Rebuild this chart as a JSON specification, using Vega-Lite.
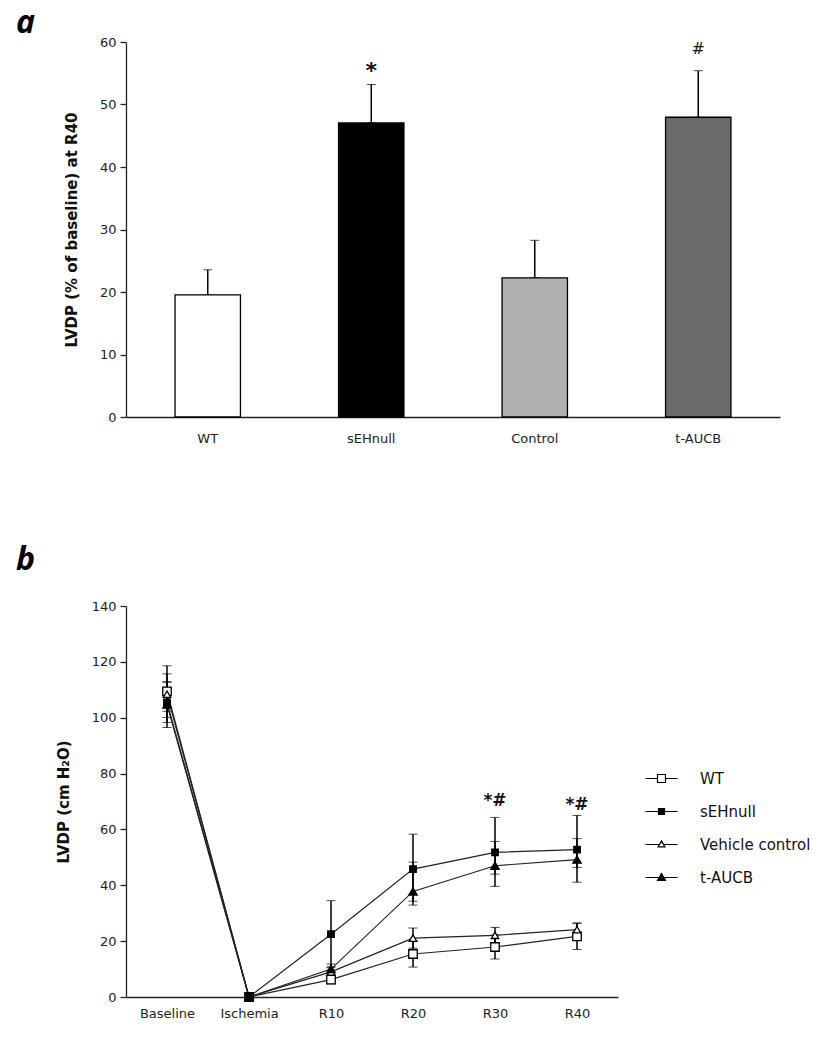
{
  "$schema": "https://vega.github.io/schema/vega-lite/v6.json",
  "background": "white",
  "padding": {"left": 16, "top": 7, "right": 5, "bottom": 5},
  "spacing": 99,
  "resolve": {
    "scale": {"fill": "independent", "shape": "independent", "size": "independent"},
    "legend": {"fill": "independent", "shape": "independent", "size": "independent"}
  },
  "config": {
    "font": "DejaVu Sans",
    "view": {"stroke": null},
    "axis": {
      "grid": false,
      "labelFont": "DejaVu Sans",
      "titleFont": "DejaVu Sans",
      "labelColor": "#222",
      "titleColor": "#111",
      "domainColor": "#222",
      "tickColor": "#222",
      "domainWidth": 1.3,
      "tickWidth": 1.3,
      "labelFontSize": 13,
      "titleFontSize": 15,
      "titleFontWeight": "bold"
    },
    "axisX": {"ticks": false, "labelAngle": 0, "labelPadding": 10},
    "axisY": {"tickSize": 6, "labelPadding": 4, "titlePadding": 20}
  },
  "vconcat": [
    {
      "width": 654,
      "height": 375,
      "title": {"text": "a", "anchor": "start", "frame": "group", "dx": -110, "offset": -4, "font": "Open Sans", "fontSize": 32, "fontStyle": "italic", "fontWeight": "bold", "color": "black"},
      "data": {"values": [
        {"group": "WT", "value": 19.55, "err_up": 4.0, "err_down": 0},
        {"group": "sEHnull", "value": 47.05, "err_up": 6.15, "err_down": 0},
        {"group": "Control", "value": 22.27, "err_up": 6.0, "err_down": 0},
        {"group": "t-AUCB", "value": 47.96, "err_up": 7.45, "err_down": 0}
      ]},
      "encoding": {
        "x": {"field": "group", "type": "nominal", "sort": ["WT", "sEHnull", "Control", "t-AUCB"], "scale": {"paddingInner": 0.6, "paddingOuter": 0.3}, "title": null, "axis": {"labelFontSize": 13, "labelPadding": 15}}
      },
      "layer": [
        {
          "mark": {"type": "errorbar", "ticks": {"size": 9, "color": "black", "strokeWidth": 1.5}, "rule": {"color": "black", "strokeWidth": 1.5}},
          "encoding": {
            "y": {"field": "value", "type": "quantitative", "scale": {"domain": [0, 60], "nice": false}, "title": "LVDP (% of baseline) at R40", "axis": {"tickCount": 6}},
            "yError": {"field": "err_up"},
            "yError2": {"field": "err_down"}
          }
        },
        {
          "mark": {"type": "bar", "stroke": "black", "strokeWidth": 1.3},
          "encoding": {
            "y": {"field": "value", "type": "quantitative", "title": "LVDP (% of baseline) at R40"},
            "fill": {"field": "group", "type": "nominal", "scale": {"domain": ["WT", "sEHnull", "Control", "t-AUCB"], "range": ["#ffffff", "#000000", "#b0b0b0", "#6a6a6a"]}, "legend": null}
          }
        },
        {
          "data": {"values": [
            {"group": "sEHnull", "sig": "*", "y": 56.2},
            {"group": "t-AUCB", "sig": "#", "y": 58.9}
          ]},
          "transform": [{"filter": "datum.sig === '*'"}],
          "mark": {"type": "text", "font": "DejaVu Sans", "fontSize": 22, "fontWeight": "bold", "baseline": "middle", "dy": 5, "color": "#111"},
          "encoding": {
            "y": {"field": "y", "type": "quantitative", "title": "LVDP (% of baseline) at R40"},
            "text": {"field": "sig"}
          }
        },
        {
          "data": {"values": [
            {"group": "sEHnull", "sig": "*", "y": 56.2},
            {"group": "t-AUCB", "sig": "#", "y": 58.9}
          ]},
          "transform": [{"filter": "datum.sig === '#'"}],
          "mark": {"type": "text", "font": "DejaVu Sans", "fontSize": 16, "baseline": "middle", "color": "#111"},
          "encoding": {
            "y": {"field": "y", "type": "quantitative", "title": "LVDP (% of baseline) at R40"},
            "text": {"field": "sig"}
          }
        }
      ]
    },
    {
      "width": 492,
      "height": 391,
      "title": {"text": "b", "anchor": "start", "frame": "group", "dx": -110, "offset": 23, "font": "Open Sans", "fontSize": 32, "fontStyle": "italic", "fontWeight": "bold", "color": "black"},
      "data": {"values": [
        {"group": "WT", "time": "Baseline", "value": 109.4, "err_up": 9.2, "err_down": -9.3},
        {"group": "WT", "time": "Ischemia", "value": 0, "err_up": 0, "err_down": 0},
        {"group": "WT", "time": "R10", "value": 6.2, "err_up": 1.5, "err_down": -1.5},
        {"group": "WT", "time": "R20", "value": 15.4, "err_up": 4.7, "err_down": -4.7},
        {"group": "WT", "time": "R30", "value": 17.9, "err_up": 4.3, "err_down": -4.3},
        {"group": "WT", "time": "R40", "value": 21.7, "err_up": 4.7, "err_down": -4.7},
        {"group": "sEHnull", "time": "Baseline", "value": 105.5, "err_up": 7.2, "err_down": -7.2},
        {"group": "sEHnull", "time": "Ischemia", "value": 0, "err_up": 0, "err_down": 0},
        {"group": "sEHnull", "time": "R10", "value": 22.5, "err_up": 12.0, "err_down": -12.0},
        {"group": "sEHnull", "time": "R20", "value": 45.8, "err_up": 12.5, "err_down": -12.9},
        {"group": "sEHnull", "time": "R30", "value": 51.8, "err_up": 12.5, "err_down": -12.2},
        {"group": "sEHnull", "time": "R40", "value": 52.8, "err_up": 12.2, "err_down": -11.7},
        {"group": "Vehicle control", "time": "Baseline", "value": 108.4, "err_up": 7.3, "err_down": -6.1},
        {"group": "Vehicle control", "time": "Ischemia", "value": 0, "err_up": 0, "err_down": 0},
        {"group": "Vehicle control", "time": "R10", "value": 9.0, "err_up": 1.8, "err_down": -1.8},
        {"group": "Vehicle control", "time": "R20", "value": 21.1, "err_up": 3.6, "err_down": -3.6},
        {"group": "Vehicle control", "time": "R30", "value": 22.1, "err_up": 2.8, "err_down": -2.8},
        {"group": "Vehicle control", "time": "R40", "value": 24.1, "err_up": 2.4, "err_down": -2.4},
        {"group": "t-AUCB", "time": "Baseline", "value": 104.7, "err_up": 8.2, "err_down": -8.2},
        {"group": "t-AUCB", "time": "Ischemia", "value": 0, "err_up": 0, "err_down": 0},
        {"group": "t-AUCB", "time": "R10", "value": 10.0, "err_up": 1.8, "err_down": -1.8},
        {"group": "t-AUCB", "time": "R20", "value": 37.8, "err_up": 10.5, "err_down": -3.5},
        {"group": "t-AUCB", "time": "R30", "value": 47.0, "err_up": 8.7, "err_down": -3.0},
        {"group": "t-AUCB", "time": "R40", "value": 49.2, "err_up": 7.5, "err_down": -2.8}
      ]},
      "encoding": {
        "x": {"field": "time", "type": "nominal", "sort": ["Baseline", "Ischemia", "R10", "R20", "R30", "R40"], "scale": {"type": "point", "padding": 0.5}, "title": null, "axis": {"labelFontSize": 13, "labelPadding": 10}}
      },
      "layer": [
        {
          "mark": {"type": "errorbar", "ticks": {"size": 9, "color": "black", "strokeWidth": 1.5}, "rule": {"color": "black", "strokeWidth": 1.5}},
          "encoding": {
            "y": {"field": "value", "type": "quantitative", "scale": {"domain": [0, 140], "nice": false}, "title": "LVDP (cm H₂O)", "axis": {"tickCount": 7}},
            "yError": {"field": "err_up"},
            "yError2": {"field": "err_down"}
          }
        },
        {
          "mark": {"type": "line", "color": "#222", "strokeWidth": 1.2},
          "encoding": {
            "y": {"field": "value", "type": "quantitative", "title": "LVDP (cm H₂O)"},
            "detail": {"field": "group", "type": "nominal"}
          }
        },
        {
          "mark": {"type": "point", "filled": true, "stroke": "black", "strokeWidth": 1.3, "opacity": 1},
          "encoding": {
            "y": {"field": "value", "type": "quantitative", "title": "LVDP (cm H₂O)"},
            "shape": {
              "condition": {"test": "datum.group === 'WT' || datum.group === 'sEHnull'", "value": "square"},
              "value": "triangle-up"
            },
            "size": {
              "condition": [
                {"test": "datum.group === 'WT'", "value": 72},
                {"test": "datum.group === 'sEHnull'", "value": 42},
                {"test": "datum.group === 'Vehicle control'", "value": 55}
              ],
              "value": 70
            },
            "fill": {
              "field": "group", "type": "nominal",
              "scale": {"domain": ["WT", "sEHnull", "Vehicle control", "t-AUCB"], "range": ["white", "black", "white", "black"]}
            }
          }
        },
        {
          "transform": [{"filter": "datum.value < 0"}],
          "mark": {"type": "point", "filled": true, "stroke": "black", "strokeWidth": 1.2},
          "encoding": {
            "y": {"field": "value", "type": "quantitative", "title": "LVDP (cm H₂O)"},
            "shape": {
              "field": "group", "type": "nominal",
              "scale": {"domain": ["WT", "sEHnull", "Vehicle control", "t-AUCB"], "range": ["M-4,0H-1M1,0H4M-1,-1H1V1H-1Z", "M-4,0H4M-0.75,-0.75H0.75V0.75H-0.75Z", "M-4,0H-0.6M0.6,0H4M0,-0.9L0.85,0.6H-0.85Z", "M-4,0H4M0,-1L1,0.75H-1Z"]},
              "legend": {
                "title": null,
                "orient": "none",
                "legendX": 528,
                "legendY": 165,
                "labelFont": "DejaVu Sans",
                "labelFontSize": 15,
                "labelColor": "#111",
                "rowPadding": 17,
                "symbolSize": 64,
                "symbolStrokeWidth": 1.2,
                "symbolOpacity": 1,
                "labelOffset": 31
              }
            },
            "fill": {
              "field": "group", "type": "nominal",
              "legend": {
                "title": null,
                "orient": "none",
                "legendX": 528,
                "legendY": 165,
                "labelFont": "DejaVu Sans",
                "labelFontSize": 15,
                "labelColor": "#111",
                "rowPadding": 17,
                "symbolSize": 64,
                "symbolStrokeWidth": 1.2,
                "symbolOpacity": 1,
                "labelOffset": 31
              }
            }
          }
        },
        {
          "data": {"values": [
            {"time": "R30", "sig": "*#", "y": 70.3},
            {"time": "R40", "sig": "*#", "y": 68.6}
          ]},
          "mark": {"type": "text", "font": "DejaVu Sans", "fontSize": 17, "fontWeight": "bold", "baseline": "middle", "color": "#111"},
          "encoding": {
            "y": {"field": "y", "type": "quantitative", "title": "LVDP (cm H₂O)"},
            "text": {"field": "sig"}
          }
        }
      ]
    }
  ]
}
